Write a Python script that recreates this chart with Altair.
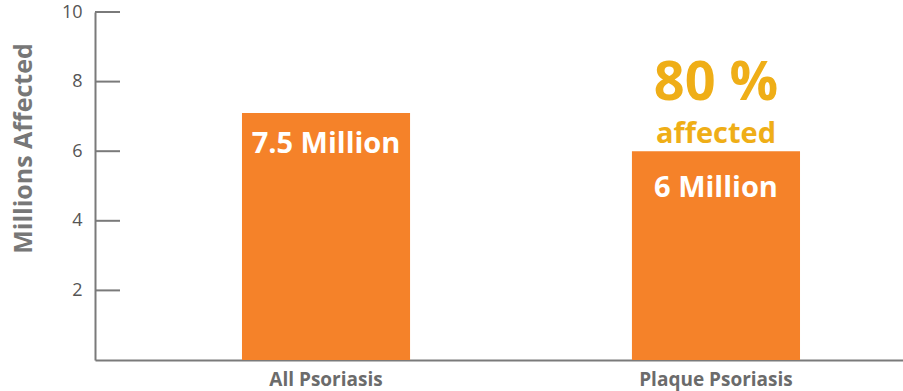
import altair as alt
import pandas as pd

categories = ["All Psoriasis", "Plaque Psoriasis"]
values = [7.1, 6.0]
bar_labels = ["7.5 Million", "6 Million"]
y_ticks = [2, 4, 6, 8, 10]
pct_text = "80 %"
pct_sub = "affected"

df = pd.DataFrame({"cat": categories, "val": values, "label": bar_labels})
ticks = pd.DataFrame({"t": y_ticks})

FONT = "Open Sans"
ORANGE = "#F58229"
GOLD = "#EFAE17"
AXIS = "#7a7a7a"

x = alt.X("cat:N", sort=categories,
          scale=alt.Scale(paddingInner=0.569, paddingOuter=0.3205, align=0.588),
          axis=alt.Axis(title=None, labelAngle=0, ticks=False, domainColor=AXIS,
                        domainWidth=2, labelFont=FONT, labelFontSize=19,
                        labelFontWeight="bold", labelColor="#6b6b6b", labelPadding=10))
y = alt.Y("val:Q", scale=alt.Scale(domain=[0, 10]),
          axis=alt.Axis(title="Millions Affected", values=y_ticks, ticks=False,
                        grid=False, domainColor=AXIS, domainWidth=2,
                        labelFont=FONT, labelFontSize=18, labelColor="#555555",
                        labelPadding=13, titleFont=FONT, titleFontSize=25,
                        titleFontWeight="bold", titleColor="#777777",
                        titleX=-72, titleY=136, titleBaseline="middle",
                        titleAlign="center"))

bars = alt.Chart(df).mark_bar(color=ORANGE).encode(x=x, y=y)

tick_rules = alt.Chart(ticks).mark_rule(color=AXIS, strokeWidth=2).encode(
    y=alt.Y("t:Q", scale=alt.Scale(domain=[0, 10])),
    x=alt.value(0), x2=alt.value(25))

lab1 = alt.Chart(df).transform_filter(alt.datum.cat == categories[0]).mark_text(
    font=FONT, fontSize=29, fontWeight="bold", color="white", baseline="alphabetic", dy=40
).encode(x=alt.X("cat:N", sort=categories), y="val:Q", text="label:N")

lab2 = alt.Chart(df).transform_filter(alt.datum.cat == categories[1]).mark_text(
    font=FONT, fontSize=29, fontWeight="bold", color="white", baseline="alphabetic", dy=46
).encode(x=alt.X("cat:N", sort=categories), y="val:Q", text="label:N")

pct = alt.Chart(df).transform_filter(alt.datum.cat == categories[1]).mark_text(
    font=FONT, fontSize=54, fontWeight="bold", color=GOLD, baseline="alphabetic",
    dy=-51, text=pct_text
).encode(x=alt.X("cat:N", sort=categories), y="val:Q")

sub = alt.Chart(df).transform_filter(alt.datum.cat == categories[1]).mark_text(
    font=FONT, fontSize=29, fontWeight="bold", color=GOLD, baseline="alphabetic",
    dy=-8, text=pct_sub
).encode(x=alt.X("cat:N", sort=categories), y="val:Q")

chart = alt.layer(bars, tick_rules, lab1, lab2, pct, sub).properties(
    width=808, height=348,
    padding={"left": 95, "top": 12, "right": 0, "bottom": 31},
    autosize=alt.AutoSizeParams(type="none"),
    background="white",
).configure_view(stroke=None)

chart.save("out.html", embed_options={"renderer": "svg", "actions": False})
